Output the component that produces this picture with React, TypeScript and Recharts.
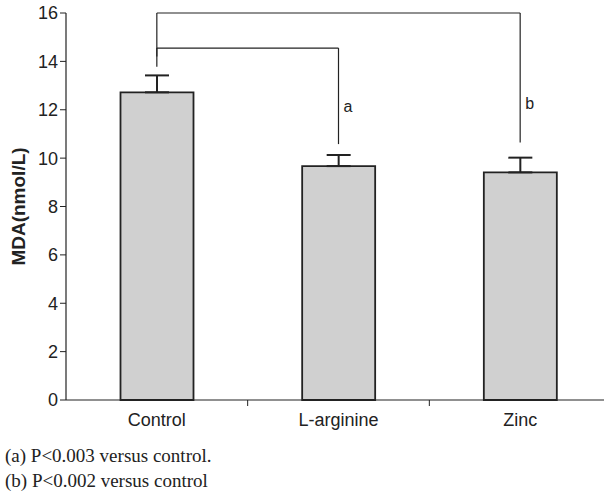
import React from "react";
import {
  BarChart,
  Bar,
  XAxis,
  YAxis,
  ErrorBar,
  ReferenceLine,
  ReferenceDot,
} from "recharts";

const groups = ["Control", "L-arginine", "Zinc"];
const mdaMeans = [12.72, 9.67, 9.41];
const mdaErrors = [0.7, 0.46, 0.61];
const yTicks = [0, 2, 4, 6, 8, 10, 12, 14, 16];

// significance brackets: [from group, to group, top y, left foot y, right foot y]
const bracketGroups = [
  ["Control", "L-arginine"],
  ["Control", "Zinc"],
];
const bracketTops = [14.55, 16];
const bracketLeftFeet = [13.78, 14.2];
const bracketRightFeet = [10.58, 10.65];
const bracketLabels = ["a", "b"];
const bracketLabelY = [12.15, 12.25];

const footnotes = ["(a) P<0.003 versus control.", "(b) P<0.002 versus control"];

const data = groups.map((g, i) => ({
  name: g,
  mda: mdaMeans[i],
  err: [0, mdaErrors[i]],
}));

const ink = "#222";
const sans = "Arial, 'Liberation Sans', Helvetica, sans-serif";

const CategoryTick = (props: any) => {
  const { x, y, payload } = props;
  const off = payload && payload.offset ? payload.offset : 0;
  return (
    <g>
      <line x1={x + off} y1={y - 6} x2={x + off} y2={y} stroke={ink} strokeWidth={1} />
      <text x={x} y={y + 20} textAnchor="middle" fontSize={18} fontFamily={sans} fill={ink}>
        {payload.value}
      </text>
    </g>
  );
};

export default function App() {
  return (
    <div
      style={{
        position: "absolute",
        left: 0,
        top: 0,
        width: 604,
        height: 492,
        overflow: "hidden",
        background: "#fff",
      }}
    >
      <BarChart
        width={612}
        height={492}
        data={data}
        margin={{ top: 13, right: 1, bottom: 62, left: 0 }}
        barCategoryGap="30%"
      >
        <XAxis
          dataKey="name"
          tickLine={false}
          tickSize={6}
          tickMargin={0}
          height={30}
          axisLine={{ stroke: ink, strokeWidth: 1.2 }}
          tick={<CategoryTick />}
          interval={0}
        />
        <YAxis
          domain={[0, 16]}
          ticks={yTicks}
          width={66}
          tickSize={6}
          tickMargin={2}
          axisLine={{ stroke: ink, strokeWidth: 1.2 }}
          tickLine={{ stroke: ink }}
          tick={{ fill: ink, fontSize: 18, fontFamily: sans }}
          label={{
            value: "MDA(nmol/L)",
            angle: -90,
            position: "insideLeft",
            offset: 18,
            style: {
              textAnchor: "middle",
              fontWeight: "bold",
              fontSize: 19,
              fontFamily: sans,
              fill: ink,
            },
          }}
        />
        <Bar dataKey="mda" fill="#d0d0d0" stroke={ink} strokeWidth={1.8} isAnimationActive={false}>
          <ErrorBar dataKey="err" direction="y" width={12} stroke={ink} strokeWidth={2} />
        </Bar>
        {bracketGroups.map((bg, i) => (
          <React.Fragment key={i}>
            <ReferenceLine
              segment={[
                { x: bg[0], y: bracketLeftFeet[i] },
                { x: bg[0], y: bracketTops[i] },
              ]}
              stroke={ink}
              strokeWidth={1.2}
            />
            <ReferenceLine
              segment={[
                { x: bg[0], y: bracketTops[i] },
                { x: bg[1], y: bracketTops[i] },
              ]}
              stroke={ink}
              strokeWidth={1.2}
            />
            <ReferenceLine
              segment={[
                { x: bg[1], y: bracketTops[i] },
                { x: bg[1], y: bracketRightFeet[i] },
              ]}
              stroke={ink}
              strokeWidth={1.2}
            />
            <ReferenceDot
              x={bg[1]}
              y={bracketLabelY[i]}
              r={0}
              stroke="none"
              fill="none"
              label={{
                value: bracketLabels[i],
                position: "right",
                offset: 5,
                fontSize: 16,
                fontFamily: sans,
                fill: ink,
              }}
            />
          </React.Fragment>
        ))}
      </BarChart>
      {footnotes.map((t, i) => (
        <div
          key={i}
          style={{
            position: "absolute",
            left: 5,
            top: 445 + i * 25,
            fontFamily: "'Liberation Serif', 'Times New Roman', serif",
            fontSize: 19,
            lineHeight: "22px",
            color: ink,
            whiteSpace: "nowrap",
          }}
        >
          {t}
        </div>
      ))}
    </div>
  );
}
